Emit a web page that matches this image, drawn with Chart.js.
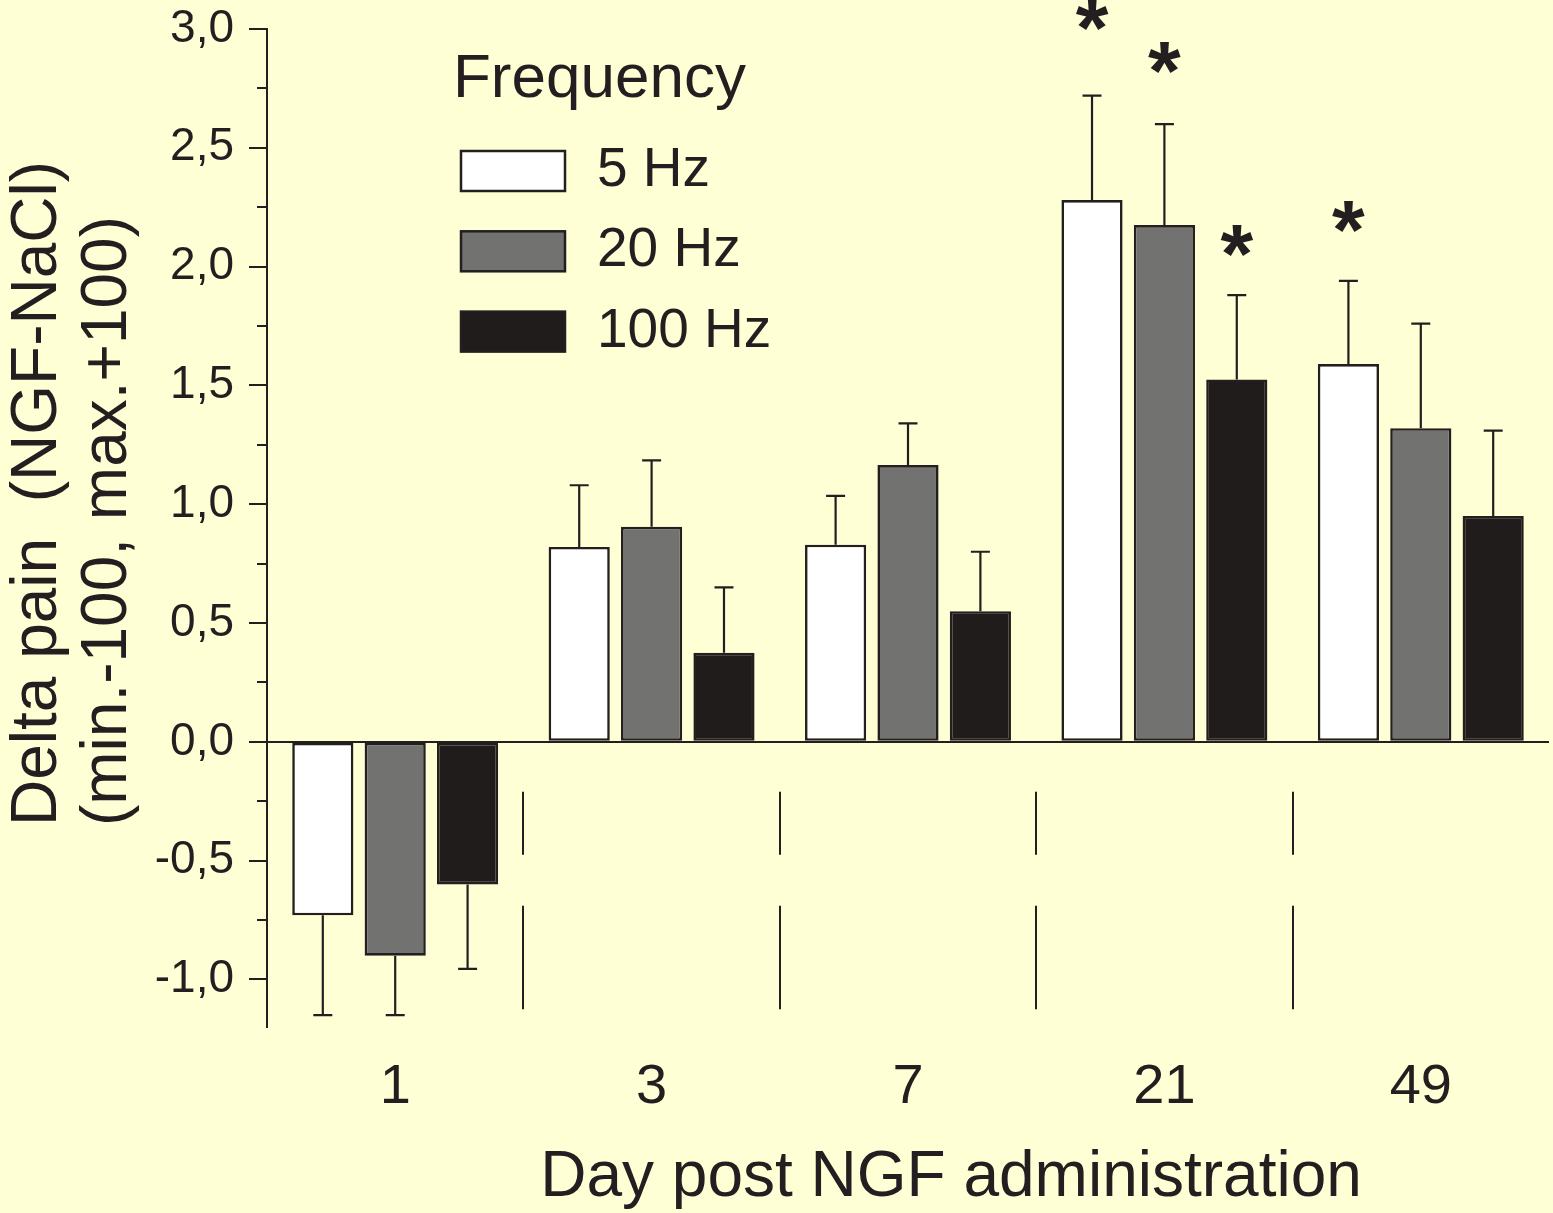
<!DOCTYPE html>
<html>
<head>
<meta charset="utf-8">
<script src="https://cdn.jsdelivr.net/npm/chart.js@4/dist/chart.umd.min.js"></script>
<style>
  html, body { margin: 0; padding: 0; background: #ffffd5; }
  canvas { display: block; }
</style>
</head>
<body>
<canvas id="chart" width="1553" height="1213"></canvas>
<script>
// Days after NGF injection (categories)
const days = ['1', '3', '7', '21', '49'];

// Mean delta pain per stimulation frequency
const hz5   = [-0.73, 0.82, 0.83, 2.28, 1.59];
const hz20  = [-0.90, 0.905, 1.165, 2.175, 1.32];
const hz100 = [-0.60, 0.375, 0.55, 1.525, 0.95];

// One-sided error bars (away from zero)
const hz5Err   = [0.42, 0.26, 0.205, 0.44, 0.35];
const hz20Err  = [0.25, 0.28, 0.175, 0.425, 0.44];
const hz100Err = [0.355, 0.275, 0.25, 0.355, 0.36];

// Significance markers: value level of the asterisk, null when none
const hz5Star   = [null, null, null, 3.04, 2.19];
const hz20Star  = [null, null, null, 2.86, null];
const hz100Star = [null, null, null, 2.09, null];

// Value axis
const yRange = [-1.2, 3.0];
const yTicks = [-1.0, -0.5, 0, 0.5, 1.0, 1.5, 2.0, 2.5, 3.0];
const yMinorTicks = [-0.75, -0.25, 0.25, 0.75, 1.25, 1.75, 2.25, 2.75];

// Group separator segments (value spans below zero)
const separatorSpans = [[-0.21, -0.475], [-0.69, -1.125]];

const legendTitle = 'Frequency';
const xTitle = 'Day post NGF administration';
const yTitleLines = ['Delta pain  (NGF-NaCl)', '(min.-100, max.+100)'];

const ink = '#231f20';
const family = '"Liberation Sans", Arial, Helvetica, sans-serif';

const decor = {
  id: 'decor',
  beforeDraw(chart) {
    const ctx = chart.ctx;
    ctx.save();
    ctx.fillStyle = '#ffffd5';
    ctx.fillRect(0, 0, chart.width, chart.height);
    ctx.restore();
  },
  afterDatasetsDraw(chart) {
    const ctx = chart.ctx;
    const y = chart.scales.y;
    ctx.save();
    ctx.strokeStyle = ink;
    ctx.lineWidth = 2.2;
    chart.data.datasets.forEach((ds, di) => {
      const meta = chart.getDatasetMeta(di);
      meta.data.forEach((bar, i) => {
        const v = ds.data[i];
        const e = ds.errors[i];
        const end = y.getPixelForValue(v + Math.sign(v) * e);
        ctx.beginPath();
        ctx.moveTo(bar.x, bar.y);
        ctx.lineTo(bar.x, end);
        ctx.moveTo(bar.x - 9.5, end);
        ctx.lineTo(bar.x + 9.5, end);
        ctx.stroke();
        const s = ds.stars[i];
        if (s !== null) {
          const size = 84;
          ctx.fillStyle = ink;
          ctx.font = 'bold ' + size + 'px ' + family;
          ctx.textAlign = 'center';
          ctx.textBaseline = 'alphabetic';
          ctx.fillText('*', bar.x, y.getPixelForValue(s) + 0.45 * size);
        }
      });
    });
    ctx.restore();
  },
  afterDraw(chart) {
    const ctx = chart.ctx;
    const x = chart.scales.x;
    const y = chart.scales.y;
    const area = chart.chartArea;
    ctx.save();
    ctx.strokeStyle = ink;
    ctx.lineWidth = 2;

    // minor ticks on the value axis
    ctx.beginPath();
    yMinorTicks.forEach(v => {
      const py = Math.round(y.getPixelForValue(v));
      ctx.moveTo(area.left - 10, py);
      ctx.lineTo(area.left, py);
    });
    ctx.stroke();

    // separators between day groups
    ctx.beginPath();
    for (let i = 0; i < days.length - 1; i++) {
      const px = Math.round((x.getPixelForValue(i) + x.getPixelForValue(i + 1)) / 2);
      separatorSpans.forEach(([a, b]) => {
        ctx.moveTo(px, y.getPixelForValue(a));
        ctx.lineTo(px, y.getPixelForValue(b));
      });
    }
    ctx.stroke();

    // legend
    ctx.fillStyle = ink;
    ctx.textAlign = 'left';
    ctx.textBaseline = 'alphabetic';
    ctx.font = '62px ' + family;
    ctx.fillText(legendTitle, 453, 97);
    ctx.font = '55px ' + family;
    ctx.lineWidth = 2.5;
    chart.data.datasets.forEach((ds, k) => {
      const top = 150 + 80.3 * k;
      ctx.fillStyle = ds.backgroundColor;
      ctx.fillRect(461, top + 1, 104, 40);
      ctx.strokeRect(461, top + 1, 104, 40);
      ctx.fillStyle = ink;
      ctx.textBaseline = 'middle';
      ctx.fillText(ds.label, 597, top + 21);
    });

    // axis titles
    ctx.textBaseline = 'alphabetic';
    ctx.font = '64px ' + family;
    ctx.textAlign = 'center';
    ctx.fillText(xTitle, 951, 1196);

    ctx.textAlign = 'left';
    const baselines = [56, 126];
    yTitleLines.forEach((t, k) => {
      ctx.save();
      ctx.translate(baselines[k], 826);
      ctx.rotate(-Math.PI / 2);
      ctx.fillText(t, 0, 0);
      ctx.restore();
    });
    ctx.restore();
  }
};

new Chart(document.getElementById('chart'), {
  type: 'bar',
  data: {
    labels: days,
    datasets: [
      { label: '5 Hz',   data: hz5,   errors: hz5Err,   stars: hz5Star,   backgroundColor: '#ffffff' },
      { label: '20 Hz',  data: hz20,  errors: hz20Err,  stars: hz20Star,  backgroundColor: '#727271' },
      { label: '100 Hz', data: hz100, errors: hz100Err, stars: hz100Star, backgroundColor: '#201c1b' }
    ]
  },
  options: {
    responsive: false,
    animation: false,
    devicePixelRatio: 1,
    layout: { padding: { top: 29, right: 4, left: 0, bottom: 0 } },
    datasets: {
      bar: {
        borderColor: ink,
        borderWidth: 2.6,
        borderSkipped: false,
        categoryPercentage: 0.847,
        barPercentage: 0.845
      }
    },
    plugins: { legend: { display: false }, tooltip: { enabled: false } },
    scales: {
      x: {
        grid: { display: false, drawTicks: false },
        border: { display: false },
        ticks: { color: ink, font: { family: family, size: 56 }, padding: 27 },
        afterFit(scale) {
          scale.height = 186;
          scale.paddingLeft = 0;
          scale.paddingRight = 0;
        }
      },
      y: {
        min: yRange[0],
        max: yRange[1],
        afterBuildTicks(scale) { scale.ticks = yTicks.map(v => ({ value: v })); },
        ticks: {
          color: ink,
          font: { family: family, size: 46 },
          padding: 15,
          callback: v => v.toFixed(1).replace('.', ',')
        },
        grid: {
          color: c => (c.tick && c.tick.value === 0) ? ink : 'rgba(0,0,0,0)',
          lineWidth: 2,
          tickColor: ink,
          tickLength: 18,
          drawTicks: true
        },
        border: { display: true, color: ink, width: 2 },
        afterFit(scale) {
          scale.width = 267;
          scale.paddingTop = 0;
          scale.paddingBottom = 0;
        }
      }
    }
  },
  plugins: [decor]
});
</script>
</body>
</html>
